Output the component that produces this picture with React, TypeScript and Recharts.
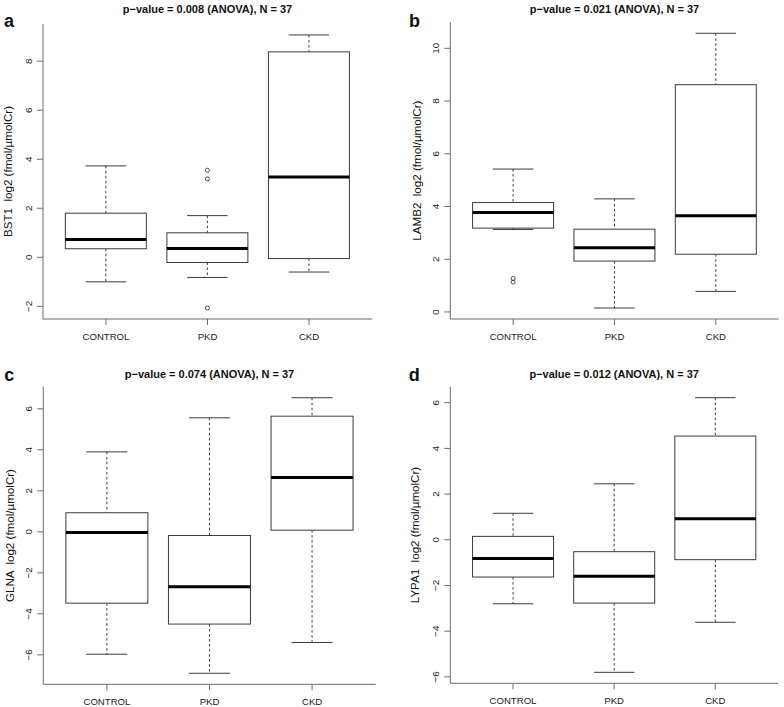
import React from "react";
import { ComposedChart, Bar, XAxis, YAxis, Label } from "recharts";

const groups = ["CONTROL", "PKD", "CKD"];

// a: BST1
const bst1Low = [-1.0, -0.82, -0.6];
const bst1Q1 = [0.35, -0.21, -0.05];
const bst1Median = [0.73, 0.36, 3.28];
const bst1Q3 = [1.8, 1.0, 8.38];
const bst1High = [3.73, 1.7, 9.07];
const bst1Outliers = [[], [3.55, 3.2, -2.07], []];
const bst1Ticks = [-2, 0, 2, 4, 6, 8];

// b: LAMB2
const lamb2Low = [3.13, 0.15, 0.78];
const lamb2Q1 = [3.18, 1.93, 2.19];
const lamb2Median = [3.77, 2.44, 3.65];
const lamb2Q3 = [4.15, 3.14, 8.62];
const lamb2High = [5.42, 4.29, 10.57];
const lamb2Outliers = [[1.27, 1.13], [], []];
const lamb2Ticks = [0, 2, 4, 6, 8, 10];

// c: GLNA
const glnaLow = [-5.97, -6.9, -5.4];
const glnaQ1 = [-3.48, -4.5, 0.08];
const glnaMedian = [-0.03, -2.68, 2.65];
const glnaQ3 = [0.93, -0.18, 5.64];
const glnaHigh = [3.9, 5.56, 6.54];
const glnaOutliers = [[], [], []];
const glnaTicks = [-6, -4, -2, 0, 2, 4, 6];

// d: LYPA1
const lypa1Low = [-2.8, -5.8, -3.61];
const lypa1Q1 = [-1.63, -2.77, -0.87];
const lypa1Median = [-0.82, -1.6, 0.92];
const lypa1Q3 = [0.15, -0.52, 4.54];
const lypa1High = [1.16, 2.45, 6.22];
const lypa1Outliers = [[], [], []];
const lypa1Ticks = [-6, -4, -2, 0, 2, 4, 6];

const FONT = '"Liberation Sans", Arial, Helvetica, sans-serif';
const FRAME = "#6b6b6b";
const BOX = "#3a3a3a";

interface Row {
  group: string;
  range: [number, number];
  q1: number;
  median: number;
  q3: number;
  outliers: number[];
}

function buildRows(low: number[], q1: number[], med: number[], q3: number[], high: number[], out: number[][]): Row[] {
  return groups.map((g, i) => ({
    group: g,
    range: [low[i], high[i]],
    q1: q1[i],
    median: med[i],
    q3: q3[i],
    outliers: out[i],
  }));
}

// R style: data range stretched by 4% on each side
function rDomain(rows: Row[]): [number, number] {
  const vals = rows.flatMap((r) => [...r.range, ...r.outliers]);
  const lo = Math.min(...vals);
  const hi = Math.max(...vals);
  const ext = (hi - lo) * 0.04;
  return [lo - ext, hi + ext];
}

function BoxPlotShape(props: any) {
  const { x, y, width, height, payload } = props;
  if (!payload) return null;
  const { range, q1, median, q3, outliers } = payload as Row;
  const [lo, hi] = range;
  const top = height >= 0 ? y : y + height;
  const k = Math.abs(height) / (hi - lo);
  const py = (v: number) => top + (hi - v) * k;
  const cx = x + width / 2;
  const cap = width / 4;
  return (
    <g>
      <line x1={cx} x2={cx} y1={py(hi)} y2={py(q3)} stroke={BOX} strokeDasharray="2.5 2.5" />
      <line x1={cx} x2={cx} y1={py(q1)} y2={py(lo)} stroke={BOX} strokeDasharray="2.5 2.5" />
      <line x1={cx - cap} x2={cx + cap} y1={py(hi)} y2={py(hi)} stroke={BOX} />
      <line x1={cx - cap} x2={cx + cap} y1={py(lo)} y2={py(lo)} stroke={BOX} />
      <rect x={x} y={py(q3)} width={width} height={py(q1) - py(q3)} fill="#fff" stroke={BOX} />
      <line x1={x} x2={x + width} y1={py(median)} y2={py(median)} stroke="#000" strokeWidth={3} />
      {outliers.map((v, i) => (
        <circle key={i} cx={cx} cy={py(v)} r={2} fill="none" stroke={BOX} strokeWidth={0.9} />
      ))}
    </g>
  );
}

function XTick(props: any) {
  const { x, y, payload } = props;
  return (
    <text x={x} y={y} textAnchor="middle" dominantBaseline="central" fontSize={9.6} fill="#222" fontFamily={FONT}>
      {payload.value}
    </text>
  );
}

function YTick(props: any) {
  const { x, y, payload } = props;
  const v = payload.value as number;
  const txt = v < 0 ? `\u2212${Math.abs(v)}` : `${v}`;
  return (
    <text
      x={x}
      y={y}
      transform={`rotate(-90, ${x}, ${y})`}
      textAnchor="middle"
      dominantBaseline="central"
      fontSize={9.8}
      fill="#222"
      fontFamily={FONT}
    >
      {txt}
    </text>
  );
}

function YTitle(props: any) {
  const { viewBox, text, baseX } = props;
  const cy = viewBox ? viewBox.y + viewBox.height / 2 : 0;
  return (
    <text
      x={baseX}
      y={cy}
      transform={`rotate(-90, ${baseX}, ${cy})`}
      textAnchor="middle"
      fontSize={11.6}
      fill="#111"
      fontFamily={FONT}
      style={{ whiteSpace: "pre" }}
    >
      {text}
    </text>
  );
}

interface Panel {
  letter: string;
  title: string;
  ylabel: string;
  rows: Row[];
  ticks: number[];
  left: number;
  top: number;
  w: number;
  h: number;
  plot: { l: number; r: number; t: number; b: number };
  labelX: number;
  titleY: number;
  letterX: number;
  letterY: number;
}

const panels: Panel[] = [
  {
    letter: "a",
    title: "p\u2212value = 0.008 (ANOVA), N = 37",
    ylabel: "BST1  log2 (fmol/\u00b5molCr)",
    rows: buildRows(bst1Low, bst1Q1, bst1Median, bst1Q3, bst1High, bst1Outliers),
    ticks: bst1Ticks,
    left: 0, top: 0, w: 392, h: 350,
    plot: { l: 43, r: 372, t: 24, b: 319 },
    labelX: 12, titleY: 13, letterX: 4, letterY: 27.3,
  },
  {
    letter: "b",
    title: "p\u2212value = 0.021 (ANOVA), N = 37",
    ylabel: "LAMB2  log2 (fmol/\u00b5molCr)",
    rows: buildRows(lamb2Low, lamb2Q1, lamb2Median, lamb2Q3, lamb2High, lamb2Outliers),
    ticks: lamb2Ticks,
    left: 392, top: 0, w: 392, h: 350,
    plot: { l: 58.3, r: 386.7, t: 22.3, b: 319 },
    labelX: 29, titleY: 13, letterX: 409, letterY: 26.7,
  },
  {
    letter: "c",
    title: "p\u2212value = 0.074 (ANOVA), N = 37",
    ylabel: "GLNA  log2 (fmol/\u00b5molCr)",
    rows: buildRows(glnaLow, glnaQ1, glnaMedian, glnaQ3, glnaHigh, glnaOutliers),
    ticks: glnaTicks,
    left: 0, top: 350, w: 392, h: 357,
    plot: { l: 43.3, r: 375.7, t: 36.7, b: 334.3 },
    labelX: 13.5, titleY: 377.5, letterX: 4.3, letterY: 380.7,
  },
  {
    letter: "d",
    title: "p\u2212value = 0.012 (ANOVA), N = 37",
    ylabel: "LYPA1  log2 (fmol/\u00b5molCr)",
    rows: buildRows(lypa1Low, lypa1Q1, lypa1Median, lypa1Q3, lypa1High, lypa1Outliers),
    ticks: lypa1Ticks,
    left: 392, top: 350, w: 392, h: 357,
    plot: { l: 58.3, r: 386, t: 36.7, b: 333.3 },
    labelX: 27, titleY: 377.5, letterX: 408.7, letterY: 380.7,
  },
];

function BoxPanel({ p }: { p: Panel }) {
  const domain = rDomain(p.rows);
  const plotW = p.plot.r - p.plot.l;
  // categories sit at 1..3 on an axis running 0.38..3.62
  const pad = plotW * (1 - 3 / 3.24) / 2;
  return (
    <div style={{ position: "absolute", left: p.left, top: p.top }}>
      <ComposedChart
        width={p.w}
        height={p.h}
        data={p.rows}
        margin={{ top: p.plot.t, right: p.w - p.plot.r, bottom: 0, left: 0 }}
        barCategoryGap="10%"
        style={{ fontFamily: FONT }}
      >
        <XAxis
          dataKey="group"
          type="category"
          interval={0}
          padding={{ left: pad, right: pad }}
          height={p.h - p.plot.b}
          tickSize={6}
          tickMargin={11}
          tickLine={{ stroke: FRAME }}
          axisLine={{ stroke: FRAME }}
          tick={<XTick />}
        />
        <XAxis xAxisId="top" orientation="top" height={0} tick={false} tickLine={false} axisLine={{ stroke: FRAME }} />
        <YAxis
          type="number"
          domain={domain}
          allowDataOverflow
          ticks={p.ticks}
          interval={0}
          width={p.plot.l}
          tickSize={6}
          tickMargin={8.5}
          tickLine={{ stroke: FRAME }}
          axisLine={{ stroke: FRAME }}
          tick={<YTick />}
        >
          <Label content={<YTitle text={p.ylabel} baseX={p.labelX} />} />
        </YAxis>
        <YAxis
          yAxisId="right"
          orientation="right"
          type="number"
          domain={domain}
          allowDataOverflow
          width={0}
          tick={false}
          tickLine={false}
          axisLine={{ stroke: FRAME }}
        />
        <Bar dataKey="range" isAnimationActive={false} shape={(props: any) => <BoxPlotShape {...props} />} />
      </ComposedChart>
    </div>
  );
}

export default function App() {
  return (
    <div style={{ position: "absolute", left: 0, top: 0, width: 784, height: 707, background: "#fff", fontFamily: FONT }}>
      {panels.map((p) => (
        <BoxPanel key={p.letter} p={p} />
      ))}
      <svg width={784} height={707} style={{ position: "absolute", left: 0, top: 0, pointerEvents: "none" }}>
        {panels.map((p) => (
          <g key={p.letter}>
            <text
              x={p.left + (p.plot.l + p.plot.r) / 2}
              y={p.titleY}
              textAnchor="middle"
              fontSize={11}
              fontWeight="bold"
              fill="#111"
              fontFamily={FONT}
            >
              {p.title}
            </text>
            <text x={p.letterX} y={p.letterY} fontSize={18} fontWeight="bold" fill="#111" fontFamily={FONT}>
              {p.letter}
            </text>
          </g>
        ))}
      </svg>
    </div>
  );
}
